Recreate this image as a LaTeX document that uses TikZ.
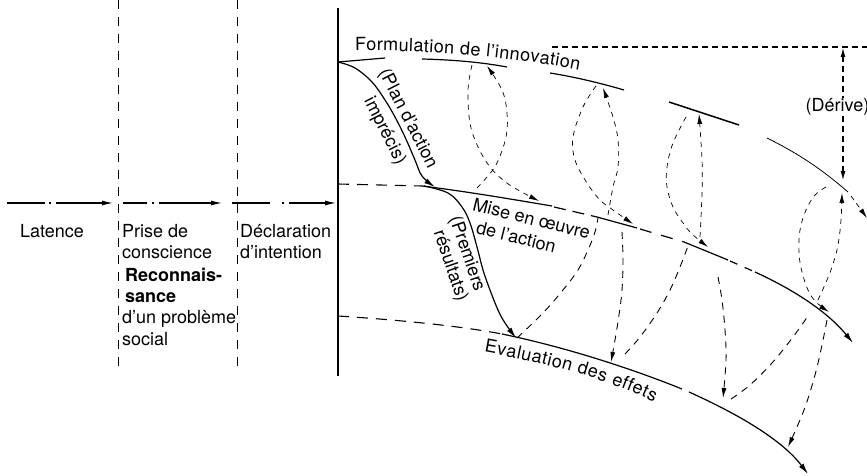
\documentclass[tikz,border=0pt]{standalone}
\usepackage{fontspec}
\setmainfont{TeX Gyre Heros}
\usetikzlibrary{arrows.meta,decorations.text}

\begin{document}
\begin{tikzpicture}[x=1pt,y=-1pt,
  lbl/.style={font=\fontsize{18}{21.5}\selectfont, inner sep=0pt},
  flow/.style={line width=1.2pt},
  bigtip/.style={-{Latex[length=11pt,width=5.5pt]}},
  smalltip/.style={-{Latex[length=10pt,width=5pt]}},
  loopdash/.style={line width=0.7pt, dash pattern=on 5pt off 5pt},
  dropdash/.style={line width=0.9pt, dash pattern=on 7pt off 6pt},
  pending/.style={line width=1.1pt, dash pattern=on 11pt off 8pt},
  phase/.style={line width=0.9pt, dash pattern=on 9pt off 8pt},
  stagearrow/.style={line width=1.1pt, -{Latex[length=11pt,width=5pt]}},
  drift/.style={line width=1.6pt, dash pattern=on 6pt off 4pt}]

\useasboundingbox (0,0) rectangle (867,476);

% ---------- phase separators ----------
\coordinate (s1t) at (118,0);   \coordinate (s1b) at (118,372);
\coordinate (s2t) at (237,0);   \coordinate (s2b) at (237,370);
\coordinate (s3t) at (338,8);   \coordinate (s3b) at (338,376);
\draw[phase] (s1t) -- (s1b);
\draw[phase] (s2t) -- (s2b);
\draw[line width=1.1pt] (s3t) -- (s3b);

% ---------- stage arrows ----------
\coordinate (a0) at (7,203);   \coordinate (a1) at (113,203);
\coordinate (b0) at (123,203); \coordinate (b1) at (222,203);
\coordinate (c0) at (232,203); \coordinate (c1) at (336,203);
\draw[stagearrow, dash pattern=on 38pt off 4pt on 2pt off 5pt on 90pt] (a0) -- (a1);
\draw[stagearrow, dash pattern=on 24pt off 5pt on 2pt off 5pt on 90pt] (b0) -- (b1);
\draw[stagearrow, dash pattern=on 38pt off 12pt on 2pt off 5pt on 90pt] (c0) -- (c1);

% ---------- stage labels ----------
\node[lbl, anchor=base west] (lat)  at (20,237)  {Latence};
\node[lbl, anchor=base west] (pr1)  at (122,237) {Prise de};
\node[lbl, anchor=base west] (pr2)  at (122,258) {conscience};
\node[lbl, anchor=base west] (rc1)  at (125,281) {\bfseries Reconnais-};
\node[lbl, anchor=base west] (rc2)  at (125,302) {\bfseries sance};
\node[lbl, anchor=base west] (pb1)  at (122,323) {d'un problème};
\node[lbl, anchor=base west] (pb2)  at (122,345) {social};
\node[lbl, anchor=base west] (dc1)  at (240,237) {Déclaration};
\node[lbl, anchor=base west] (dc2)  at (240,258) {d'intention};

% ---------- drift reference ----------
\coordinate (dh0) at (552,47); \coordinate (dh1) at (867,47);
\coordinate (dv0) at (843,47); \coordinate (dv1) at (843,181);
\draw[drift] (dh0) -- (dh1);
\draw[drift, {Latex[length=10pt,width=5pt]}-{Latex[length=10pt,width=5pt]}] (dv0) -- (dv1);
\node[lbl, anchor=base west, fill=white, inner sep=0.5pt] (der) at (805,112) {(Dérive)};

% ---------- upper line: formulation ----------
\coordinate (f0) at (338,62);
\draw[flow] (f0) -- (385,58);
\draw[flow] (422,59) .. controls (460,60) and (485,63) .. (507,67);
\draw[flow] (550,73) .. controls (575,77) and (600,83) .. (624,90);
\draw[line width=1.5pt] (669,102) -- (739,125);
\draw[line width=0.8pt] (767,138) .. controls (795,152) and (818,166) .. (848,192);
\draw[line width=0.7pt, dash pattern=on 5pt off 4pt, smalltip] (851,196) -- (867,218);
\path[decorate, decoration={text along path, text align={fit to path},
  text={|\fontsize{18}{21}\selectfont|Formulation de l'innovation}}]
  (355,51) .. controls (420,50) and (500,55) .. (579,70);

% ---------- middle line: implementation ----------
\draw[pending] (f0 |- 0,184) -- (422,186);
\draw[flow] (422,186) .. controls (470,192) and (510,199) .. (552,206);
\draw[flow, dash pattern=on 12pt off 7pt] (554,207) -- (597,217);
\draw[flow] (597,217) -- (637,228);
\draw[flow, dash pattern=on 12pt off 10pt] (640,229) -- (684,242);
\draw[flow] (684,242) -- (728,260);
\draw[flow, dash pattern=on 8pt off 8pt] (730,261) -- (755,272);
\draw[flow, bigtip] (755,272) .. controls (790,288) and (826,310) .. (853,343);
\node[lbl, rotate=-14, align=left] (mise) at (529,229) {Mise en œuvre\\\hspace*{9pt}de l'action};

% ---------- lower line: evaluation ----------
\draw[pending] (f0 |- 0,316) .. controls (400,320) and (460,326) .. (502,334);
\draw[flow] (502,334) .. controls (560,346) and (625,366) .. (682,389);
\draw[flow, bigtip] (689,392) .. controls (740,415) and (782,440) .. (808,474);
\path[decorate, decoration={text along path, text align={fit to path},
  text={|\fontsize{18}{21}\selectfont|Evaluation des effets}}]
  (484,352) .. controls (545,363) and (605,378) .. (654,402);

% ---------- transitions between lines ----------
\draw[flow, bigtip] plot[smooth, tension=0.6] coordinates
  {(f0) (355,68) (372,82) (385,100) (395,117) (405,137) (415,160) (422,176) (435,187)};
\node[lbl, rotate=-63, align=center] (plan) at (396,125) {(Plan d'action\\[4.5pt]imprécis)};

\draw[flow, bigtip] plot[smooth, tension=0.6] coordinates
  {(424,186) (448,193) (462,207) (470,223) (477,247) (483,270) (490,290) (498,310) (505,323) (516,338)};
\node[lbl, rotate=-71, align=left] (prem) at (458,259) {(Premiers\\[-2pt]\hspace*{8pt}résultats)};

% ---------- feedback loops: formulation <-> implementation ----------
\draw[loopdash, smalltip] plot[smooth, tension=0.6] coordinates
  {(472,65) (468,90) (470,123) (478,147) (490,167) (503,180) (518,190) (539,201)};
\draw[loopdash, smalltip] plot[smooth, tension=0.6] coordinates
  {(477,188) (487,177) (497,163) (506,137) (507,113) (502,90) (487,66)};

\draw[loopdash, smalltip] plot[smooth, tension=0.6] coordinates
  {(596,86) (583,107) (573,137) (575,160) (587,183) (600,200) (613,210) (633,224)};
\draw[loopdash, smalltip] plot[smooth, tension=0.6] coordinates
  {(608,215) (613,187) (618,167) (618,140) (613,117) (603,88)};

\draw[loopdash, smalltip] plot[smooth, tension=0.6] coordinates
  {(686,117) (673,143) (667,167) (667,187) (673,207) (683,223) (692,234) (708,247)};
\draw[loopdash, smalltip] plot[smooth, tension=0.6] coordinates
  {(700,237) (702,193) (702,160) (699,114)};

\draw[loopdash, smalltip] plot[smooth, tension=0.6] coordinates
  {(826,187) (815,195) (806,210) (800,230) (799,253) (802,272) (808,290) (816,302) (829,312)};
\draw[loopdash, smalltip] plot[smooth, tension=0.6] coordinates
  {(818,300) (827,280) (833,264) (838,245) (841,220) (842,193)};

% ---------- feedback loops: implementation <-> evaluation ----------
\draw[dropdash] plot[smooth, tension=0.6] coordinates
  {(517,338) (543,313) (563,290) (578,270) (588,250) (595,232) (598,218)};
\draw[dropdash, smalltip] plot[smooth, tension=0.6] coordinates
  {(622,232) (623,260) (622,290) (619,315) (615,340) (611,362)};
\draw[dropdash] plot[smooth, tension=0.6] coordinates
  {(625,354) (640,337) (657,313) (670,290) (680,267) (688,246)};
\draw[dropdash, smalltip] plot[smooth, tension=0.6] coordinates
  {(718,277) (722,300) (725,330) (726,360) (723,398)};
\draw[dropdash] plot[smooth, tension=0.6] coordinates
  {(731,399) (750,385) (772,363) (793,337) (808,316)};
\draw[dropdash, smalltip] plot[smooth, tension=0.6] coordinates
  {(827,320) (822,345) (815,375) (804,410) (788,447)};

\end{tikzpicture}
\end{document}
